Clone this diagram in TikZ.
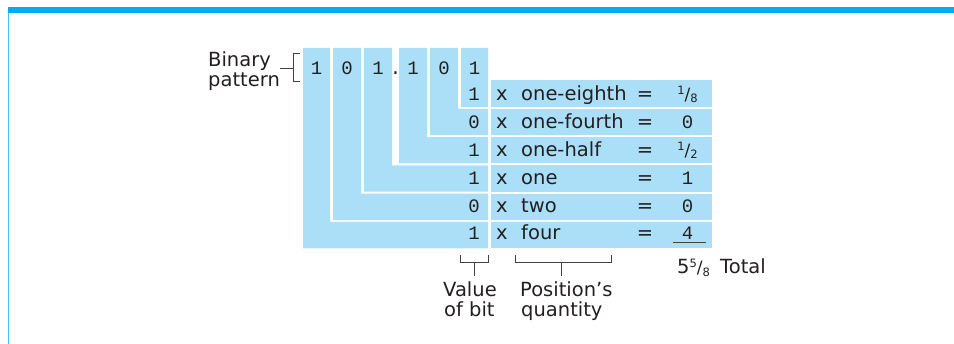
\documentclass[tikz,border=0pt]{standalone}
\usepackage{fontspec}
\setmainfont{DejaVu Sans}
\setmonofont{Liberation Mono}
\usepackage{tikz}
\usetikzlibrary{calc, positioning}
\definecolor{bitblue}{RGB}{171,223,247}
\definecolor{framecyan}{RGB}{0,174,239}
\definecolor{inkgray}{RGB}{35,31,32}
\newcommand{\smallfrac}[2]{\rmfamily\raisebox{0.55ex}{\fontsize{11.5}{12}\selectfont #1}{\fontsize{17}{17}\selectfont /}\raisebox{-0.2ex}{\fontsize{11.5}{12}\selectfont #2}}
\tikzset{
    auto,node distance =1.1 cm and 1.1 cm,% not much relative placement here, rows are at fixed pixel heights
}

\begin{document}
\begin{tikzpicture}
            [x=1pt,y=-1pt,
            every node/.style={inner sep=0pt,text=inkgray},
            word/.style={font=\fontsize{19.5}{20}\selectfont},
            bit/.style={font=\ttfamily\fontsize{19}{20}\selectfont},
            bracketline/.style={draw=inkgray!85,line width=1pt}]
            \useasboundingbox (0,0) rectangle (954,344);
            % frame
            \fill[framecyan] (8,7) rectangle (954,13.3);
            \draw[framecyan!75,line width=1.3pt] (8.6,13) -- (8.6,344);
            % nested columns and the product bars
            \foreach \xl/\xr/\r in {303/330/6,333/361/5,364/392/4,399/427/3,430/458/2,461/488/1}{
                \pgfmathsetmacro\rt{80.5+28.3*(\r-1)}
                \pgfmathsetmacro\rb{\rt+26.3}
                \fill[bitblue] (\xl,48) -- (\xr,48) -- (\xr,\rt) -- (488,\rt) -- (488,\rb) -- (\xl,\rb) -- cycle;
                \fill[bitblue] (491,\rt) rectangle (712,\rb);
            }
            % the pattern itself
            \foreach \n/\x/\b in {1/316.5/1,2/347/0,3/378/1,4/413/1,5/444/0,6/474.5/1}
                \node(b\n) [bit,anchor=base] at (\x,75) {\b};
            \node(dot) [bit,anchor=base] at (395.5,75) {.};
            % one row per bit
            \foreach \r/\v/\w/\p in {1/1/one-eighth/{\smallfrac{1}{8}},2/0/one-fourth/0,3/1/one-half/{\smallfrac{1}{2}},4/1/one/1,5/0/two/0,6/1/four/4}{
                \pgfmathsetmacro\yb{100.5+27.9*(\r-1)}
                \node(v\r) [bit,anchor=base] at (474,\yb) {\v};
                \node(x\r) [word,anchor=base] at (502,\yb) {x};
                \node(w\r) [word,anchor=base west] at (521,\yb) {\w};
                \node(eq\r) [word,anchor=base] at (645,\yb) {=};
                \node(p\r) [bit,anchor=base] at (687.5,\yb) {\p};
            }
            \draw[bracketline] ($(p6.base)+(-14.5,3)$) -- ($(p6.base)+(18.5,3)$);
            \node(sum) [word,anchor=base west] at (677,274) {5\raisebox{0.6ex}{\fontsize{11.5}{12}\selectfont 5}{\fontsize{17}{17}\selectfont /}\raisebox{-0.2ex}{\fontsize{11.5}{12}\selectfont 8}};
            \node(total) [word,anchor=base west] at (720,274) {Total};
            % labels and brackets
            \node(bin1) [word,anchor=base west] at (208,66.7) {Binary};
            \node(bin2) [word,anchor=base west] at (208,86.7) {pattern};
            \coordinate(binstub) at (280,69);
            \coordinate(bintop) at (293,54);
            \coordinate(binbot) at (293,81.7);
            \draw[bracketline] ($(bintop)+(7,0)$) -- (bintop) -- (binbot) -- ($(binbot)+(7,0)$);
            \draw[bracketline] (binstub) -- (binstub -| bintop);
            \node(val1) [word,anchor=base west] at (443,296.7) {Value};
            \node(val2) [word,anchor=base west] at (444,316.7) {of bit};
            \node(pos1) [word,anchor=base west] at (520,296.7) {Position’s};
            \node(pos2) [word,anchor=base west] at (521,316.7) {quantity};
            \coordinate(vbl) at (460,255);
            \coordinate(vbr) at (488,255);
            \coordinate(vbs) at (474,276.5);
            \draw[bracketline] (vbl) -- ++(0,7.7) -| (vbr);
            \draw[bracketline] (vbs |- 0,262.7) -- (vbs);
            \coordinate(pql) at (515,255);
            \coordinate(pqr) at (611,255);
            \coordinate(pqs) at (561,276.5);
            \draw[bracketline] (pql) -- ++(0,7.7) -| (pqr);
            \draw[bracketline] (pqs |- 0,262.7) -- (pqs);
        \end{tikzpicture}
\end{document}
